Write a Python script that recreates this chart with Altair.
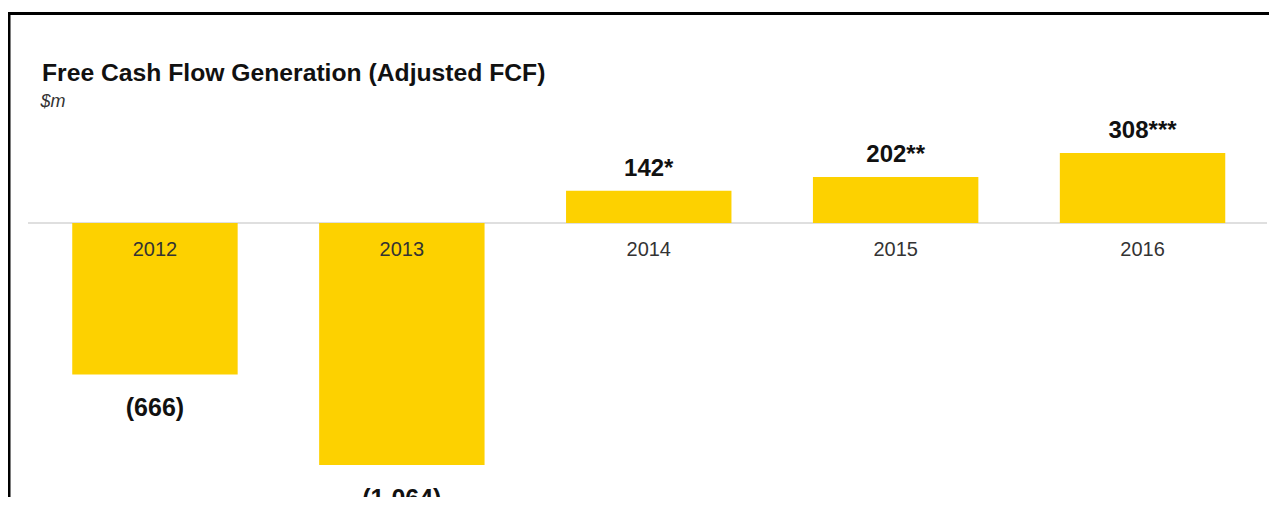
import altair as alt
import pandas as pd

years = ["2012", "2013", "2014", "2015", "2016"]
values = [-666, -1064, 142, 202, 308]
labels = ["(666)", "(1,064)", "142*", "202**", "308***"]
title_text = ["Free Cash Flow Generation (Adjusted FCF)"]
subtitle_text = ["$m"]

df = pd.DataFrame({"year": years, "value": values, "label": labels})
zero_df = pd.DataFrame({"z": [0]})
title_df = pd.DataFrame({"t": title_text})
subtitle_df = pd.DataFrame({"t": subtitle_text})

W = 1234.5
H = 352.6
SANS = "Liberation Sans, Arial, sans-serif"

xenc = alt.X("year:N", scale=alt.Scale(paddingInner=0.33, paddingOuter=0.165), axis=None)
yscale = alt.Scale(domain=[-1150, 400], nice=False, zero=True)

base = alt.Chart(df)

zero_line = alt.Chart(zero_df).mark_rule(color="#d4d4d4", strokeWidth=1.5).encode(
    y=alt.Y("z:Q", scale=yscale, axis=None),
    x=alt.value(-3.5),
    x2=alt.value(W + 1),
)

bars = base.mark_bar(color="#FDD100").encode(
    x=xenc,
    y=alt.Y("value:Q", scale=yscale, axis=None),
)

year_text = base.mark_text(dy=27, fontSize=20, color="#333333", font=SANS).encode(
    x=xenc,
    y=alt.datum(0),
    text="year:N",
)

pos_text = base.transform_filter("datum.value > 0").mark_text(
    baseline="alphabetic", dy=-15, fontSize=24, fontWeight="bold", font=SANS, color="#111111"
).encode(x=xenc, y=alt.Y("value:Q"), text="label:N")

neg_text = base.transform_filter("datum.value < 0").mark_text(
    baseline="top", dy=22, fontSize=25, fontWeight="bold", font=SANS, color="#111111"
).encode(x=xenc, y=alt.Y("value:Q"), text="label:N")

title_mark = alt.Chart(title_df).mark_text(
    align="left", baseline="alphabetic", fontSize=24.7, fontWeight="bold", font=SANS, color="#111111"
).encode(x=alt.value(10.5), y=alt.value(-51), text="t:N")

subtitle_mark = alt.Chart(subtitle_df).mark_text(
    align="left", baseline="alphabetic", fontSize=18, fontStyle="italic", font=SANS, color="#333333"
).encode(x=alt.value(9), y=alt.value(-25), text="t:N")

left_border = alt.Chart(zero_df).mark_rule(color="#000000", strokeWidth=3).encode(
    x=alt.value(-22.5), y=alt.value(-117.5), y2=alt.value(H + 60)
)
top_border = alt.Chart(zero_df).mark_rule(color="#000000", strokeWidth=3).encode(
    y=alt.value(-118.5), x=alt.value(-24), x2=alt.value(W + 10)
)

chart = alt.layer(
    zero_line, bars, year_text, pos_text, neg_text, title_mark, subtitle_mark,
    left_border, top_border
).properties(
    width=W,
    height=H,
    background="white",
    autosize=alt.AutoSizeParams(type="none"),
    padding={"left": 23.5, "top": 124, "right": 3, "bottom": 12},
).configure_view(strokeWidth=0, stroke="transparent")

chart.save("out.html", embed_options={"renderer": "svg", "actions": False})
